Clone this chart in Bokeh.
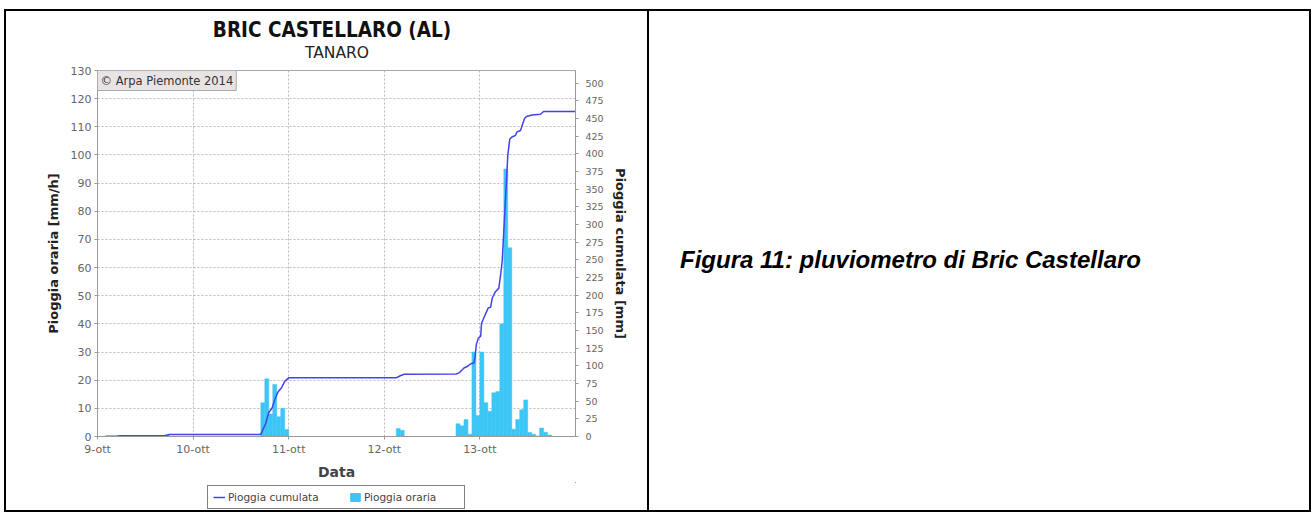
from bokeh.plotting import figure
from bokeh.models import (Range1d, LinearAxis, FixedTicker, Label, Legend, LegendItem, Div)
from bokeh.layouts import row, column
from bokeh.embed import file_html
from bokeh.resources import INLINE

# ---- data (hours from 9-ott 00:00) ----
day_ticks = [0, 24, 48, 72, 96]
day_labels = ["9-ott", "10-ott", "11-ott", "12-ott", "13-ott"]
left_ticks = list(range(0, 131, 10))
right_ticks = list(range(0, 501, 25))

rain_hours = [5, 17, 41, 42, 43, 44, 45, 46, 47, 75, 76,
              90, 91, 92, 93, 94, 95, 96, 97, 98, 99, 100, 101, 102, 103,
              104, 105, 106, 107, 108, 109, 110, 111, 112, 113]
rain_mm_h = [0.4, 0.6, 12, 20.5, 8, 18.5, 7, 10, 2.5, 2.8, 2.2,
             4.5, 3.8, 6, 0.8, 30, 7.5, 30, 12, 9, 15.5, 16, 40, 95, 67,
             2.6, 6, 9.5, 13, 1.4, 0.8, 0.2, 3, 1.5, 0.5]

cum_hours = [2, 5, 6, 17, 18, 41, 42.2, 43, 43.8, 44.5, 45.3, 46.2, 47, 48,
             75, 76, 77, 90, 90.75, 92, 92.8, 93.7, 94.5, 94.75, 95.1, 95.6,
             96.2, 96.4, 97, 98.1, 98.7, 99.1, 99.9, 100.75, 101.2, 101.6,
             102.7, 103, 103.5, 104.1, 104.9, 105.3, 106.2, 106.6, 107.2,
             107.7, 109.1, 111.2, 112, 120]
cum_mm = [0.3, 0.5, 1.0, 1.2, 2.8, 3.0, 18, 34, 40, 52, 63, 69, 78, 83,
          83, 86, 88, 88.5, 90, 97, 99, 103, 104, 111, 130, 139,
          142, 160, 168, 182, 183, 196, 205, 210, 229, 248,
          365, 398, 421, 424, 426, 431, 433, 440, 450,
          453, 455, 456, 460, 460]

title_text = "BRIC CASTELLARO (AL)"
subtitle_text = "TANARO"
caption_text = "Figura 11: pluviometro di Bric Castellaro"

BAR = "#3cc6f6"
LINE = "#4242ee"

# ---------------- main chart ----------------
p = figure(width=641, height=420, x_range=Range1d(0, 120), y_range=Range1d(0, 130),
           output_backend="svg", toolbar_location=None,
           min_border_left=91, min_border_right=72, min_border_top=8, min_border_bottom=43)
p.extra_y_ranges = {"cum": Range1d(0, 518)}
p.background_fill_color = "white"
p.outline_line_color = "#aaaaaa"

bars = p.vbar(x=[h + 0.5 for h in rain_hours], top=rain_mm_h, width=1, bottom=0,
              fill_color=BAR, line_color=BAR, line_width=0.5)
line = p.line(cum_hours, cum_mm, y_range_name="cum", line_color=LINE, line_width=1.5)

p.xaxis.ticker = FixedTicker(ticks=day_ticks)
p.xaxis.major_label_overrides = {t: l for t, l in zip(day_ticks, day_labels)}
p.xaxis.axis_label = "Data"
p.yaxis.ticker = FixedTicker(ticks=left_ticks)
p.yaxis.axis_label = "Pioggia oraria [mm/h]"

raxis = LinearAxis(y_range_name="cum", ticker=FixedTicker(ticks=right_ticks),
                   axis_label="Pioggia cumulata [mm]")
p.add_layout(raxis, "right")

for ax in [p.xaxis[0], p.yaxis[0], raxis]:
    ax.axis_line_color = "#999999"
    ax.major_tick_line_color = "#999999"
    ax.major_tick_in = 0
    ax.major_tick_out = 3
    ax.minor_tick_line_color = None
    ax.major_label_text_color = "#666666"
    ax.major_label_text_font = "DejaVu Sans"
    ax.major_label_text_font_size = "11px"
    ax.axis_label_text_font = "DejaVu Sans"
    ax.axis_label_text_font_style = "bold"
    ax.axis_label_text_color = "#222222"
    ax.axis_label_text_font_size = "13px"
    ax.major_label_standoff = 3
    ax.axis_label_standoff = 7

raxis.major_label_text_font_size = "9.5px"
raxis.major_label_standoff = 7
raxis.axis_label_standoff = 6
p.xaxis.axis_label_text_font_size = "14px"
p.xaxis.axis_label_text_color = "#444444"
p.xaxis.axis_label_standoff = 5

for g in [p.xgrid[0], p.ygrid[0]]:
    g.grid_line_color = "#bbbbbb"
    g.grid_line_dash = "2 2"
    g.grid_line_width = 1

p.add_layout(Label(x=0, y=130, text="\u00a9 Arpa Piemonte 2014", text_align="left",
                   text_baseline="top", text_font="DejaVu Sans", text_font_size="11.5px",
                   text_color="#333333", background_fill_color="#e8e4e4",
                   border_line_color="#aaaaaa", padding=3))

# ---------------- legend strip (proxies drawn out of view) ----------------
lg = figure(width=641, height=28, x_range=Range1d(-3, -2), y_range=Range1d(-3, -2),
            output_backend="svg", toolbar_location=None,
            x_axis_location=None, y_axis_location=None,
            min_border_left=18, min_border_right=0, min_border_top=0, min_border_bottom=1)
lg.grid.visible = False
lg.outline_line_color = None
lg_line = lg.line(cum_hours, cum_mm, line_color=LINE, line_width=1.5)
lg_bar = lg.vbar(x=rain_hours, top=rain_mm_h, width=1, fill_color=BAR, line_color=BAR)
legend = Legend(items=[LegendItem(label="Pioggia cumulata", renderers=[lg_line]),
                       LegendItem(label="Pioggia oraria", renderers=[lg_bar])],
                orientation="horizontal", location="bottom_center",
                border_line_color="black", border_line_width=1,
                background_fill_color="white", padding=5, margin=0,
                spacing=26, glyph_width=12, glyph_height=10, label_height=12,
                label_width=95, label_standoff=3,
                label_text_font="DejaVu Sans", label_text_font_size="10.5px",
                label_text_color="#444444")
lg.add_layout(legend)

# ---------------- title block ----------------
title_div = Div(
    text=(f'<div style="display:block;width:630px;margin-left:11px;'
          f'font-family:\'DejaVu Sans Condensed\',\'DejaVu Sans\',sans-serif;'
          f'font-stretch:condensed;font-weight:bold;font-size:20.5px;line-height:24px;'
          f'text-align:center;padding-top:7px;color:#111;">{title_text}</div>'
          f'<div style="display:block;width:620px;margin-left:21px;'
          f'font-family:\'DejaVu Sans\',sans-serif;font-size:15.5px;line-height:18px;'
          f'text-align:center;padding-top:2px;color:#222;">{subtitle_text}</div>'),
    width=641, height=51, margin=0)

left_cell = column(title_div, p, lg)

caption = Div(
    text=('<div style="padding-top:236px;padding-left:31px;font-family:\'Liberation Sans\',Arial,sans-serif;'
          'font-weight:bold;font-style:italic;font-size:24px;line-height:26px;color:#000;">'
          f'{caption_text}</div>'),
    width=660, height=499, margin=0)


def hline():
    return Div(text="", width=1307, height=2, margin=0, styles={"background-color": "black"})


def vline():
    return Div(text="", width=2, height=499, margin=0, styles={"background-color": "black"})


table = column(hline(), row(vline(), left_cell, vline(), caption, vline()), hline())
page = column(Div(text="", width=1, height=9, margin=0),
              row(Div(text="", width=4, height=1, margin=0), table))
open("out.html", "w").write(file_html(page, INLINE))
